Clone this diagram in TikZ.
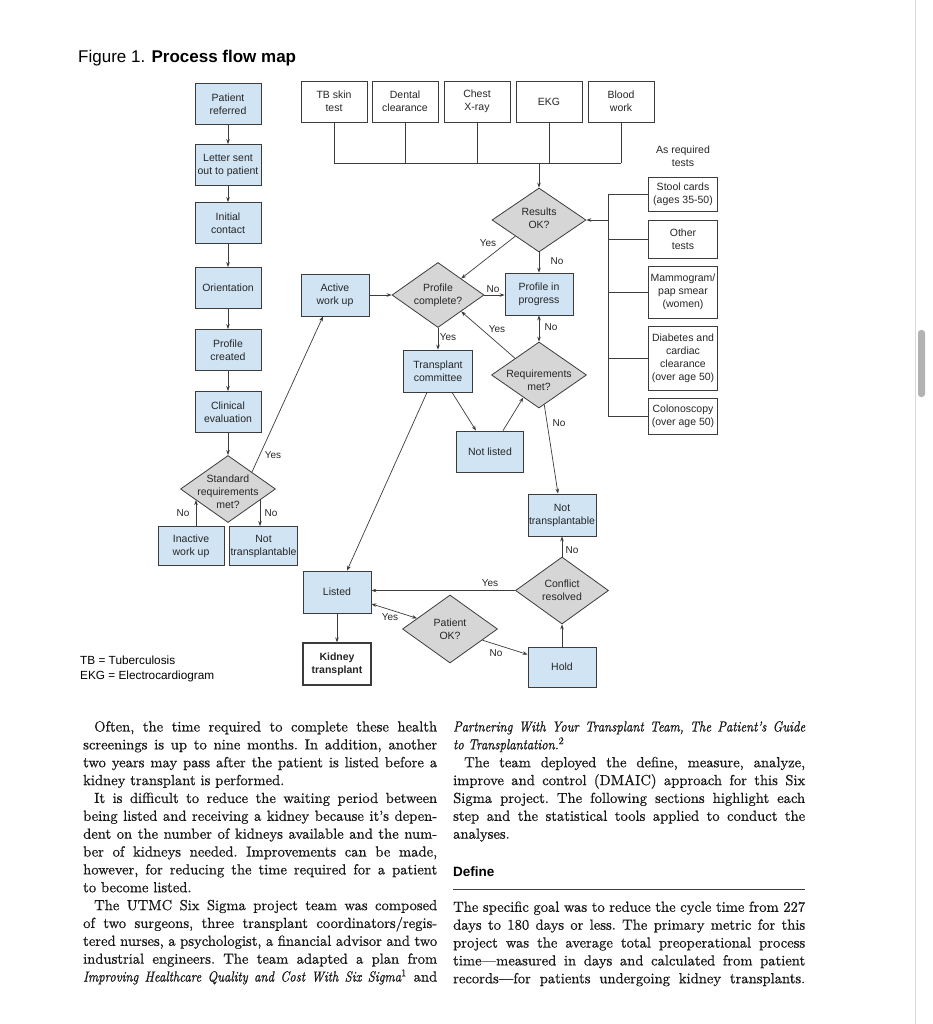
\documentclass[tikz,border=0pt]{standalone}
\usepackage{fontspec}
\newfontfamily\flowfont{Liberation Sans}
\newfontfamily\bookfont{lmroman10-regular.otf}[Ligatures=TeX, FakeBold=0.7]
\newfontface\bookit{lmroman10-italic.otf}[Ligatures=TeX, FakeStretch=0.86, FakeBold=0.7]
\usetikzlibrary{shapes.geometric,arrows.meta,calc}

\definecolor{stepBlue}{HTML}{D0E4F4}
\definecolor{askGray}{HTML}{D6D6D6}
\definecolor{wire}{HTML}{3C3C3C}

% text of a decision, kept out of the size of the diamond
\newcommand{\decisiontext}[2][-2.6pt]{\makebox[0pt]{\smash{\raisebox{#1}{\begin{tabular}{@{}c@{}}#2\end{tabular}}}}}

\begin{document}
\begin{tikzpicture}[x=1pt, y=-1pt,
	flow/.style={draw=wire, line width=0.8pt, text=black!85, font=\flowfont\fontsize{10.5}{13}\selectfont, align=center, inner sep=1pt},
	stepbox/.style={flow, fill=stepBlue, minimum width=66pt, minimum height=41pt},
	testbox/.style={flow, fill=white, minimum width=66pt, minimum height=41pt},
	sidebox/.style={flow, fill=white, minimum width=69pt},
	decision/.style={flow, diamond, fill=askGray, inner sep=0pt, minimum width=95pt, minimum height=67pt},
	wireline/.style={draw=wire, line width=0.7pt},
	arrow/.style={wireline, -{Stealth[length=5pt,width=3.6pt]}},
	biarrow/.style={wireline, {Stealth[length=5pt,width=3.6pt]}-{Stealth[length=5pt,width=3.6pt]}},
	answer/.style={font=\flowfont\fontsize{10}{12}\selectfont, text=black!85, inner sep=0pt},
	bodytext/.style={anchor=north west, inner sep=0pt, align=justify, text=black!90, font=\bookfont\fontsize{14.6}{17.86}\selectfont}
]
	\useasboundingbox (0,0) rectangle (932,1024);
	\fill[white] (0,0) rectangle (932,1024);

	%page edge and scroll bar
	\draw[gray!30, line width=0.8pt] (915.5,0) -- (915.5,1024);
	\fill[gray!60, rounded corners=3pt] (918,330) rectangle (925,397);

	\node[anchor=base west, inner sep=0pt, font=\flowfont\fontsize{17}{20}\selectfont] (title) at (78,63) {Figure 1. {\bfseries Process flow map}};

	%left column, one step under the other
	\foreach \name/\txt/\ypos in {referred/{Patient\\referred}/104, letterSent/{Letter sent\\out to patient}/165, initialContact/{Initial\\contact}/223, orientation/Orientation/288, profileCreated/{Profile\\created}/350, clinicalEval/{Clinical\\evaluation}/412}
   {
		\node[stepbox] (\name) at (228,\ypos) {\txt};
   }
	\node[decision] (stdReq) at (228,489) {\decisiontext[-7pt]{Standard\\requirements\\met?}};
	\node[stepbox, minimum height=39pt] (inactive) at (191,546) {Inactive\\work up};
	\node[stepbox, minimum height=39pt, minimum width=67pt] (notTransL) at (263.5,546) {Not\\transplantable};

	%tests along the top
	\coordinate (busLeft) at (334,163);
	\foreach \name/\txt/\xpos in {tb/{TB skin\\test}/334, dental/{Dental\\clearance}/405, xray/{Chest\\X-ray}/477, ekg/EKG/549, blood/{Blood\\work}/621}
   {
		\node[testbox] (\name) at (\xpos,101.5) {\txt};
		\draw[wireline] (\name.south) -- (\name.south |- busLeft);
   }
	\draw[wireline] (tb.south |- busLeft) -- (blood.south |- busLeft);

	%tests as required, right side
	\coordinate (bracketTop) at (608,194);
	\node[answer, align=center, font=\flowfont\fontsize{10.5}{13}\selectfont] (asRequired) at (683,156) {As required\\tests};
	\foreach \name/\txt/\ypos/\hgt in {stool/{Stool cards\\(ages 35-50)}/194/34, otherTests/{Other\\tests}/239/38, mammo/{Mammogram/\\pap smear\\(women)}/292/52, diabetes/{Diabetes and\\cardiac\\clearance\\(over age 50)}/358/64, colon/{Colonoscopy\\(over age 50)}/416/36}
   {
		\node[sidebox, minimum height=\hgt pt] (\name) at (683,\ypos) {\txt};
		\draw[wireline] (\name.west) -- (\name.west -| bracketTop);
   }
	\draw[wireline] (stool.west -| bracketTop) -- (colon.west -| bracketTop);

	%middle of the map
	\node[decision, minimum width=94pt, minimum height=64pt] (resultsOK) at (539,220) {\decisiontext{Results\\OK?}};
	\node[stepbox, minimum width=68pt, minimum height=42pt] (activeWork) at (335,295) {Active\\work up};
	\node[decision, minimum width=92pt, minimum height=65pt] (profileComplete) at (438,295) {\decisiontext[-3.5pt]{Profile\\complete?}};
	\node[stepbox, minimum width=68pt, minimum height=42pt] (profileProgress) at (539,294) {Profile in\\progress};
	\node[stepbox, minimum width=69pt, minimum height=42pt] (committee) at (438,371) {Transplant\\committee};
	\node[decision, minimum height=66pt] (reqMet) at (539,375) {\decisiontext[-9pt]{Requirements\\met?}};
	\node[stepbox, minimum width=67pt] (notListed) at (490,451.5) {Not listed};
	\node[stepbox, minimum width=67pt, minimum height=42pt] (notTransR) at (562,515) {Not\\transplantable};
	\node[decision, minimum width=93pt] (conflict) at (562,590.5) {\decisiontext[-3.5pt]{Conflict\\resolved}};
	\node[stepbox, minimum width=68pt, minimum height=42pt] (listed) at (337,592) {Listed};
	\node[flow, fill=white, line width=1.3pt, font=\flowfont\bfseries\fontsize{10.5}{13}\selectfont, minimum width=68pt, minimum height=42pt] (kidney) at (337,664) {Kidney\\transplant};
	\node[decision, minimum height=68pt] (patientOK) at (450,629) {\decisiontext[-4.5pt]{Patient\\OK?}};
	\node[stepbox, minimum width=68pt, minimum height=40pt] (hold) at (562,667) {Hold};

	%Arrows
	\foreach \a/\b in {referred/letterSent, letterSent/initialContact, initialContact/orientation, orientation/profileCreated, profileCreated/clinicalEval, clinicalEval/stdReq}
		\draw[arrow] (\a) -- (\b);
	\draw[arrow] ($(inactive.north)+(5,0)$) -- ++(0,-26);
	\draw[arrow] ($(notTransL.north)+(-3.5,-26)$) -- ($(notTransL.north)+(-3.5,0)$);
	\draw[arrow] (stdReq.north east) -- ($(activeWork.south)+(-12,0)$);

	\draw[arrow] (resultsOK.north |- busLeft) -- (resultsOK.north);
	\draw[arrow] (resultsOK.east -| bracketTop) -- (resultsOK.east);
	\draw[arrow] (resultsOK) -- (profileProgress);
	\draw[arrow] (resultsOK.south west) -- (profileComplete.north east);
	\draw[arrow] (activeWork) -- (profileComplete);
	\draw[arrow] (profileComplete.east) -- (profileComplete.east -| profileProgress.west);
	\draw[arrow] (profileComplete) -- (committee);
	\draw[biarrow] (profileProgress) -- (reqMet);
	\draw[arrow] (reqMet.north west) -- (profileComplete.south east);
	\draw[arrow] (reqMet.-80) -- ($(notTransR.north)+(-4,0)$);
	\draw[arrow] ($(committee.south)+(14,0)$) -- ($(notListed.north)+(-14,0)$);
	\draw[arrow] ($(notListed.north)+(13,0)$) -- (reqMet.-125);
	\draw[arrow] ($(committee.south)+(-11,0)$) -- ($(listed.north)+(10,0)$);

	\draw[arrow] (listed) -- (kidney);
	\draw[biarrow] (listed.-19) -- (patientOK.162);
	\draw[arrow] (patientOK.-19) -- (hold.160);
	\draw[arrow] (hold) -- (conflict);
	\draw[arrow] (conflict) -- (notTransR);
	\draw[arrow] (conflict.west) -- (conflict.west -| listed.east);

	%yes and no on the arrows
	\foreach \name/\txt/\xpos/\ypos in {yesStd/Yes/273/455, noInactive/No/183/513, noNotTransL/No/271/513, yesResults/Yes/488/243, noResults/No/557/261, noProfile/No/493/289, yesProfile/Yes/448/337, yesReq/Yes/497/329, noProgress/No/551/327, noReq/No/559/423, yesConflict/Yes/490/583, noConflict/No/572/550, yesListed/Yes/390/617, noPatient/No/496/653}
		\node[answer] (\name) at (\xpos,\ypos) {\txt};

	\node[anchor=north west, inner sep=0pt, align=left, font=\flowfont\fontsize{11.8}{15}\selectfont] (legend) at (80,656) {TB = Tuberculosis\\EKG = Electrocardiogram};

	%article text below the map
	\node[bodytext, text width=354pt] (leftColumn) at (83,721) {\noindent\frenchspacing\tolerance=9999\hyphenpenalty=10000\hspace*{11pt}Often, the time required to complete these health\linebreak
screenings is up to nine months. In addition, another\linebreak
two years may pass after the patient is listed before a\linebreak
kidney transplant is performed.\par
\noindent\hspace*{11pt}It is difficult to reduce the waiting period between\linebreak
being listed and receiving a kidney because it’s depen-\linebreak
dent on the number of kidneys available and the num-\linebreak
ber of kidneys needed. Improvements can be made,\linebreak
however, for reducing the time required for a patient\linebreak
to become listed.\par
\noindent\hspace*{11pt}The UTMC Six Sigma project team was composed\linebreak
of two surgeons, three transplant coordinators/regis-\linebreak
tered nurses, a psychologist, a financial advisor and two\linebreak
industrial engineers. The team adapted a plan from\linebreak
{\bookit Improving Healthcare Quality and Cost With Six Sigma}\textsuperscript{1} and{\parfillskip=0pt\par}};

	\node[bodytext, text width=352pt] (rightColumn) at (453,721) {\noindent\frenchspacing\tolerance=9999\hyphenpenalty=10000{\bookit Partnering With Your Transplant Team, The Patient’s Guide\linebreak
to Transplantation.}\textsuperscript{2}\par
\noindent\hspace*{11pt}The team deployed the define, measure, analyze,\linebreak
improve and control (DMAIC) approach for this Six\linebreak
Sigma project. The following sections highlight each\linebreak
step and the statistical tools applied to conduct the\linebreak
analyses.\par};

	\node[anchor=base west, inner sep=0pt, font=\flowfont\bfseries\fontsize{13.5}{16}\selectfont] (defineHead) at (453,876) {Define};
	\draw[wire, line width=0.7pt] (453,889) -- (805,889);

	\node[bodytext, text width=352pt] (defineText) at (453,901.3) {\noindent\frenchspacing\tolerance=9999\hyphenpenalty=10000 The specific goal was to reduce the cycle time from 227\linebreak
days to 180 days or less. The primary metric for this\linebreak
project was the average total preoperational process\linebreak
time—measured in days and calculated from patient\linebreak
records—for patients undergoing kidney transplants.{\parfillskip=0pt\par}};

\end{tikzpicture}
\end{document}
